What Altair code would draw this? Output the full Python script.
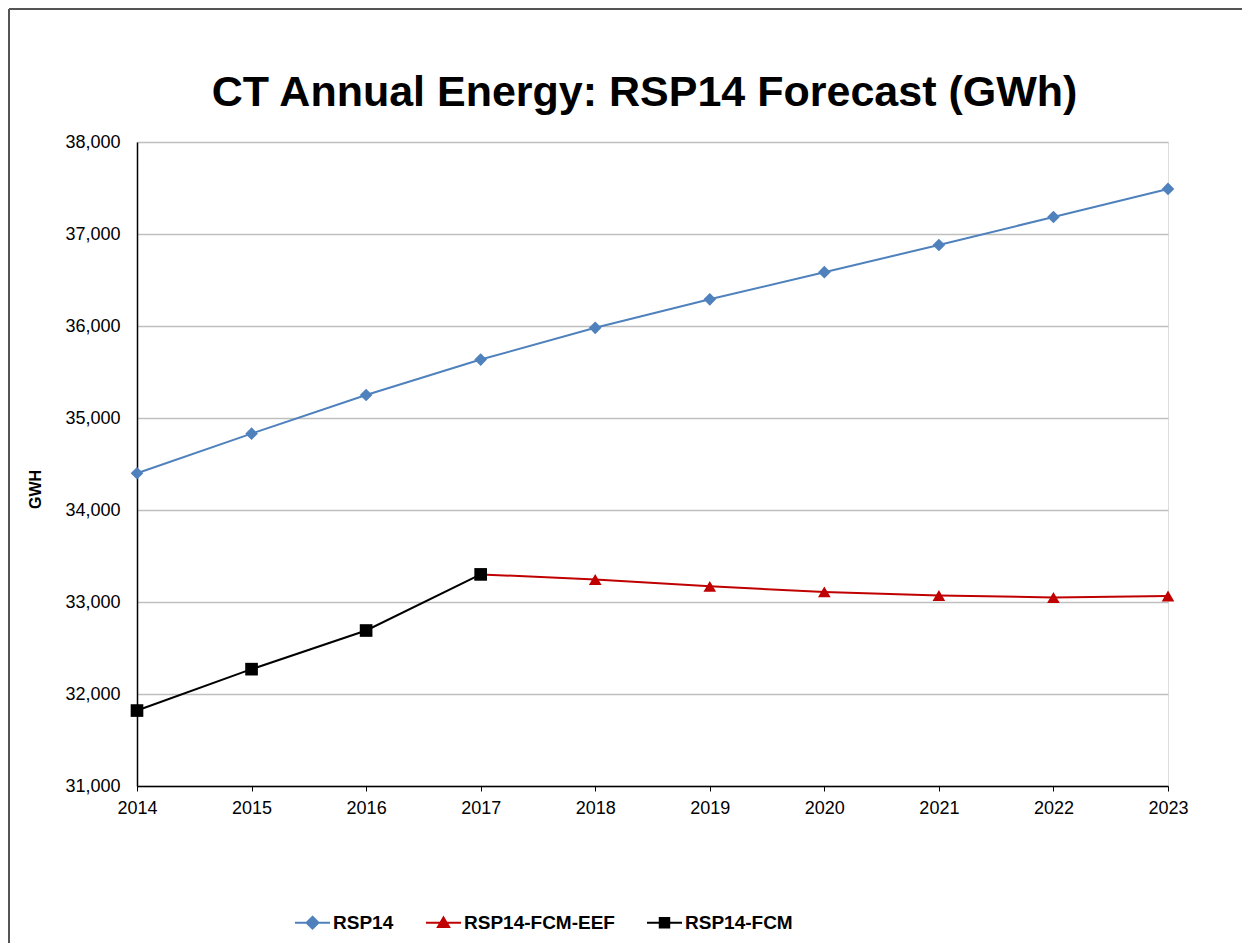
import altair as alt
import pandas as pd

years = [2014, 2015, 2016, 2017, 2018, 2019, 2020, 2021, 2022, 2023]
rsp14 = [34400, 34830, 35250, 35635, 35980, 36290, 36585, 36880, 37185, 37490]
eef_years = [2017, 2018, 2019, 2020, 2021, 2022, 2023]
rsp14_fcm_eef = [33300, 33245, 33170, 33110, 33070, 33050, 33065]
fcm_years = [2014, 2015, 2016, 2017]
rsp14_fcm = [31820, 32270, 32690, 33300]

series_names = ["RSP14", "RSP14-FCM-EEF", "RSP14-FCM"]
series_colors = ["#4F81BD", "#C00000", "#000000"]
series_shapes = ["diamond", "triangle-up", "square"]
legend_paths = [
    "M-1,0L1,0M0,-0.34L0.34,0L0,0.34L-0.34,0Z",
    "M-1,0L1,0M0,-0.3L0.32,0.24L-0.32,0.24Z",
    "M-1,0L1,0M-0.27,-0.27L0.27,-0.27L0.27,0.27L-0.27,0.27Z",
]
y_ticks = [31000, 32000, 33000, 34000, 35000, 36000, 37000, 38000]
title_text = "CT Annual Energy: RSP14 Forecast (GWh)"

rows = []
for y, v in zip(years, rsp14):
    rows.append({"series": "RSP14", "year": y, "value": v})
for y, v in zip(eef_years, rsp14_fcm_eef):
    rows.append({"series": "RSP14-FCM-EEF", "year": y, "value": v})
for y, v in zip(fcm_years, rsp14_fcm):
    rows.append({"series": "RSP14-FCM", "year": y, "value": v})
df = pd.DataFrame(rows)

FONT = "Liberation Sans"
W, H = 1031, 644
PL, PT = 129, 134
TOTAL_W, TOTAL_H = 1234, 935

x_enc = alt.X(
    "year:Q",
    scale=alt.Scale(domain=[2014, 2023], nice=False, zero=False),
    axis=alt.Axis(
        values=years, format="d", title=None, grid=False, labelFlush=False,
        tickSize=5, tickColor="#000", domainColor="#000", domainWidth=1.5,
        labelFont=FONT, labelFontSize=18, labelColor="#000", labelPadding=8,
    ),
)
y_enc = alt.Y(
    "value:Q",
    scale=alt.Scale(domain=[31000, 38000], nice=False, zero=False),
    axis=alt.Axis(
        values=y_ticks, format=",d", title="GWH", labelFlush=False,
        titleFont=FONT, titleFontSize=16, titleFontWeight="bold", titleColor="#000",
        titleAngle=270, titleAlign="center", titleBaseline="middle",
        titleX=-102, titleY=347,
        ticks=False, domainColor="#000", domainWidth=1.5,
        gridColor="#BFBFBF", gridWidth=1.5,
        labelFont=FONT, labelFontSize=18, labelColor="#000", labelPadding=17,
    ),
)

line_layers = []
point_layers = []
for name, col, shp in zip(series_names, series_colors, series_shapes):
    sub = alt.Chart(df).transform_filter(alt.datum.series == name)
    line_layers.append(
        sub.mark_line(strokeWidth=2, color=col).encode(x=x_enc, y=y_enc, order="year:Q")
    )
    point_layers.append(
        sub.mark_point(filled=True, opacity=1, size=160, shape=shp, color=col).encode(
            x=x_enc, y=y_enc
        )
    )

legend_kw = dict(
    title=None, orient="none", direction="horizontal",
    legendX=157, legendY=762,
    symbolSize=1225, symbolStrokeWidth=2,
    labelFont=FONT, labelFontSize=19, labelFontWeight="bold",
    labelColor="#000", labelOffset=2, columnPadding=28, padding=0,
)

legend_layer = alt.Chart(df).transform_filter("false").mark_point(
    opacity=1, strokeWidth=2
).encode(
    x=x_enc,
    y=y_enc,
    fill=alt.Fill("series:N", scale=alt.Scale(domain=series_names, range=series_colors),
                  legend=alt.Legend(**legend_kw)),
    stroke=alt.Stroke("series:N", scale=alt.Scale(domain=series_names, range=series_colors),
                      legend=alt.Legend(**legend_kw)),
    shape=alt.Shape("series:N", scale=alt.Scale(domain=series_names, range=legend_paths),
                    legend=alt.Legend(**legend_kw)),
)

frame_df = pd.DataFrame({"k": [0]})
top_border = alt.Chart(frame_df).mark_rule(color="#555555", strokeWidth=2).encode(
    x=alt.value(-128), x2=alt.value(TOTAL_W - PL), y=alt.value(-133)
)
left_border = alt.Chart(frame_df).mark_rule(color="#555555", strokeWidth=2).encode(
    x=alt.value(-128), y=alt.value(-133), y2=alt.value(TOTAL_H - PT)
)
title_mark = alt.Chart(frame_df).mark_text(
    text=title_text, font=FONT, fontSize=43, fontWeight="bold", color="#000",
    align="center", baseline="alphabetic",
).encode(x=alt.value(W / 2 - 8), y=alt.value(-36))

chart = alt.layer(
    top_border, left_border, title_mark, *line_layers, *point_layers, legend_layer
).properties(
    width=W,
    height=H,
    autosize=alt.AutoSizeParams(type="none"),
    padding={"left": PL, "top": PT, "right": TOTAL_W - PL - W, "bottom": TOTAL_H - PT - H},
).configure_view(
    stroke="#000", strokeWidth=1.5
).configure(background="white")

chart.save("out.html", embed_options={"renderer": "svg", "actions": False})
